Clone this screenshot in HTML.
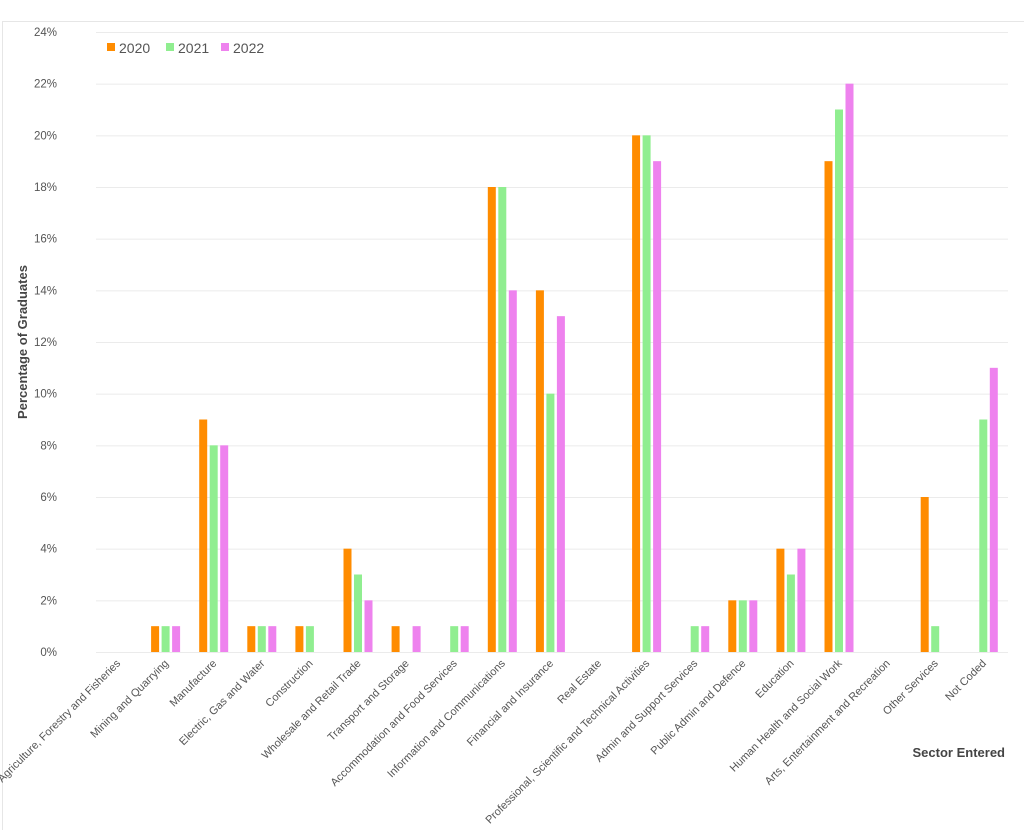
<!DOCTYPE html>
<html><head><meta charset="utf-8"><style>body{margin:0;background:#fff}svg{display:block}</style></head>
<body>
<svg width="1024" height="830" xmlns="http://www.w3.org/2000/svg" font-family="Liberation Sans, sans-serif">
<rect x="2.5" y="21.5" width="1030" height="820" fill="none" stroke="#e6e6e6"/>
<g id="grid" stroke="#ebebeb" stroke-width="1"></g>
<g id="yl" fill="#555" font-size="11.5" text-anchor="end"></g>
<g id="bars"></g>
<g id="xl" fill="#555" font-size="11" text-anchor="end"></g>
<text transform="translate(27,342) rotate(-90)" text-anchor="middle" font-size="13" font-weight="bold" fill="#444">Percentage of Graduates</text>
<text x="1005" y="757" text-anchor="end" font-size="13" font-weight="bold" fill="#444">Sector Entered</text>
<rect x="107" y="43" width="8" height="8" fill="#FF8C00"/><text x="119" y="53" font-size="14" fill="#555">2020</text>
<rect x="166" y="43" width="8" height="8" fill="#90EE90"/><text x="178" y="53" font-size="14" fill="#555">2021</text>
<rect x="221" y="43" width="8" height="8" fill="#EE82EE"/><text x="233" y="53" font-size="14" fill="#555">2022</text>
<script>
var ns="http://www.w3.org/2000/svg";
function el(p,t,a,txt){var e=document.createElementNS(ns,t);for(var k in a)e.setAttribute(k,a[k]);if(txt)e.textContent=txt;document.getElementById(p).appendChild(e);}
function Y(v){return 652-v*620/24;}
for(var v=0;v<=24;v+=2){var y=Y(v);el("grid","line",{x1:96,x2:1008,y1:y+0.5,y2:y+0.5});el("yl","text",{x:57,y:y+4},v+"%");}
var cats=["Agriculture, Forestry and Fisheries","Mining and Quarrying","Manufacture","Electric, Gas and Water","Construction","Wholesale and Retail Trade","Transport and Storage","Accommodation and Food Services","Information and Communications","Financial and Insurance","Real Estate","Professional, Scientific and Technical Activities","Admin and Support Services","Public Admin and Defence","Education","Human Health and Social Work","Arts, Entertainment and Recreation","Other Services","Not Coded"];
var d=[[0,0,0],[1,1,1],[9,8,8],[1,1,1],[1,1,0],[4,3,2],[1,0,1],[0,1,1],[18,18,14],[14,10,13],[0,0,0],[20,20,19],[0,1,1],[2,2,2],[4,3,4],[19,21,22],[0,0,0],[6,1,0],[0,9,11]];
var col=["#FF8C00","#90EE90","#EE82EE"];
for(var i=0;i<19;i++){var c=118+i*48.1;
 for(var j=0;j<3;j++){var v=d[i][j];if(v>0){var y=Y(v);el("bars","rect",{x:c-15+j*10.5,y:y,width:8,height:652-y,fill:col[j]});}}
 el("xl","text",{transform:"translate("+(c+3)+",664) rotate(-45)"},cats[i]);}
</script>
</svg>
</body></html>
